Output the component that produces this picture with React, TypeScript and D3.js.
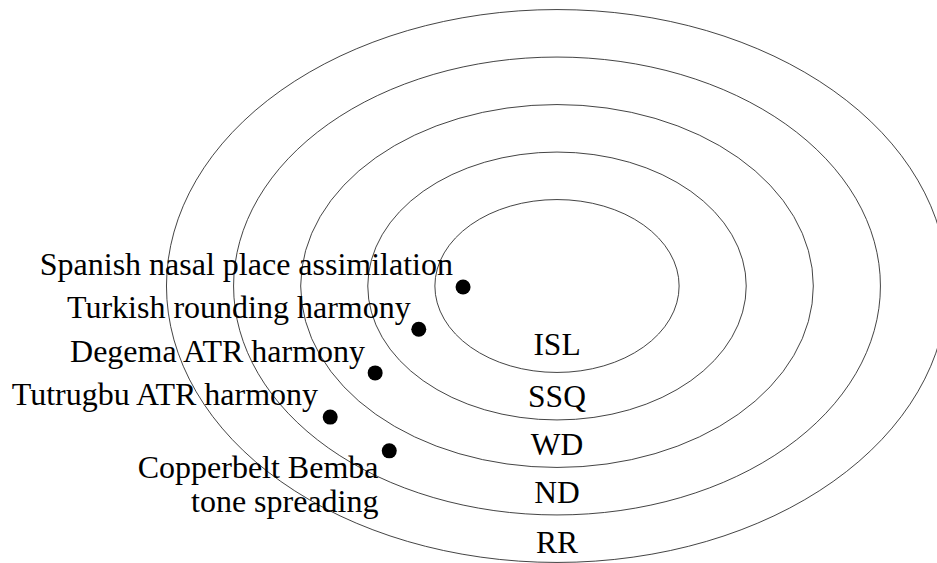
import React from 'react';
import * as d3 from 'd3';

// ring radii in "ring units" (same count in x and y; each axis has its own px per unit)
const rings = [1.82, 2.82, 3.82, 4.82, 5.82];
const ringLabels = ['ISL', 'SSQ', 'WD', 'ND', 'RR'];
const ringLabelDepth = [1.45, 2.55, 3.56, 4.57, 5.62];

const processes = [
  'Spanish nasal place assimilation',
  'Turkish rounding harmony',
  'Degema ATR harmony',
  'Tutrugbu ATR harmony',
  'Copperbelt Bemba',
];
const processX = [-1.40, -2.06, -2.71, -3.38, -2.50];
const processY = [0.02, 0.91, 1.83, 2.76, 3.47];
// label anchor offsets (text end relative to dot), in units
const labelDX = [-0.15, -0.12, -0.15, -0.18, -0.16];
const labelDY = [-0.25, -0.23, -0.23, -0.25, 0.57];
const secondLine = ['', '', '', '', 'tone spreading'];

const W = 937;
const H = 563;
const font = '"Liberation Serif", "Times New Roman", serif';

const App: React.FC = () => {
  const x = d3.scaleLinear().domain([0, 1]).range([557, 557 + 67.1]);
  const y = d3.scaleLinear().domain([0, 1]).range([286, 286 + 47.5]);
  const ux = x(1) - x(0);
  const uy = y(1) - y(0);

  return (
    <svg width={W} height={H} style={{ position: 'fixed', left: 0, top: 0, background: '#fff' }}>
      <g fill="none" stroke="#222" strokeWidth={0.85}>
        {rings.map((r, i) => (
          <ellipse key={i} cx={x(0)} cy={y(0)} rx={r * ux} ry={r * uy} />
        ))}
      </g>
      <g fontFamily={font} fontSize={31.5} fill="#000" textAnchor="middle">
        {ringLabels.map((l, i) => (
          <text key={l} x={x(0)} y={y(ringLabelDepth[i])}>{l}</text>
        ))}
      </g>
      <g>
        {processes.map((p, i) => (
          <circle key={p} cx={x(processX[i])} cy={y(processY[i])} r={7.5} fill="#000" />
        ))}
      </g>
      <g fontFamily={font} fontSize={32} fill="#000" textAnchor="end">
        {processes.map((p, i) => (
          <text key={p} x={x(processX[i] + labelDX[i])} y={y(processY[i] + labelDY[i])}>
            <tspan x={x(processX[i] + labelDX[i])}>{p}</tspan>
            {secondLine[i] && (
              <tspan x={x(processX[i] + labelDX[i])} dy={34}>{secondLine[i]}</tspan>
            )}
          </text>
        ))}
      </g>
    </svg>
  );
};

export default App;
